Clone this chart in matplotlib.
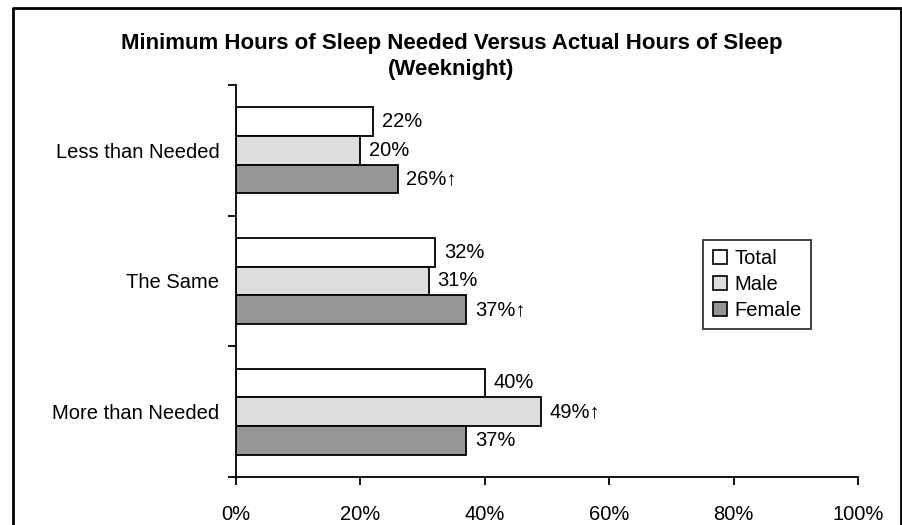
import matplotlib
matplotlib.use("Agg")
import matplotlib.pyplot as plt
from matplotlib.lines import Line2D
import numpy as np

plt.rcParams['font.family'] = ['Liberation Sans', 'DejaVu Sans']

categories = ["Less than Needed", "The Same", "More than Needed"]
series_names = ["Total", "Male", "Female"]
total = [22, 32, 40]
male = [20, 31, 49]
female = [26, 37, 37]
flags_total = [False, False, False]
flags_male = [False, False, True]
flags_female = [True, True, False]
colors = ["#FFFFFF", "#DDDDDD", "#969696"]
xticks = [0, 20, 40, 60, 80, 100]

W, H = 903, 525
fig = plt.figure(figsize=(W / 100, H / 100), dpi=100)
ax = fig.add_axes([236 / W, 1 - 477 / H, (858 - 236) / W, (477 - 85) / H])

series = [total, male, female]
flags = [flags_total, flags_male, flags_female]
bar_h = 0.22
n = len(categories)
centers = np.arange(n)[::-1] + 0.5  # top category at top
for i, (vals, fl) in enumerate(zip(series, flags)):
    y = centers + (1 - i) * bar_h
    ax.barh(y, vals, height=bar_h, color=colors[i], edgecolor="black", linewidth=1.3)
    for yy, v, f in zip(y, vals, fl):
        ax.text(v + 1.4, yy, f"{v}%" + ("↑" if f else ""), va="center", ha="left", fontsize=14.5)

ax.set_xlim(0, 100)
ax.set_ylim(0, n)
ax.set_xticks(xticks)
ax.set_xticklabels([f"{t}%" for t in xticks], fontsize=14.5)
ax.set_yticks([0, 1, 2, 3])
ax.set_yticklabels([])
ax.set_yticks(centers, minor=True)
ax.set_yticklabels(categories, minor=True, fontsize=14.5)
ax.tick_params(axis="y", which="minor", length=0, pad=12)
ax.tick_params(axis="y", which="major", length=6, width=1.3, direction="out")
ax.tick_params(axis="x", length=6, width=1.3, direction="out", pad=14)
for s in ["top", "right"]:
    ax.spines[s].set_visible(False)
for s in ["left", "bottom"]:
    ax.spines[s].set_linewidth(1.3)

handles = [Line2D([], [], marker="s", linestyle="none", markersize=10,
                  markerfacecolor=c, markeredgecolor="black", markeredgewidth=1.2)
           for c in colors]
leg = fig.legend(handles, series_names, loc="upper left",
                 bbox_to_anchor=(703 / W, 1 - 240 / H), fontsize=14.5,
                 frameon=True, fancybox=False, edgecolor="black",
                 handlelength=0.8, handletextpad=0.3, borderpad=0.45,
                 labelspacing=0.35, borderaxespad=0)
leg.get_frame().set_linewidth(1.3)

fig.text(0.5, 1 - 43 / H, "Minimum Hours of Sleep Needed Versus Actual Hours of Sleep",
         ha="center", va="center", fontsize=16, fontweight="bold")
fig.text(0.5, 1 - 70 / H, "(Weeknight)", ha="center", va="center",
         fontsize=16, fontweight="bold")

# outer frame (left, top, right; bottom runs off the image)
x0, x1, y0 = 13.5 / W, 901 / W, 1 - 8 / H
fig.add_artist(Line2D([x0, x0, x1, x1], [-0.05, y0, y0, -0.05],
                      transform=fig.transFigure, color="black", linewidth=2))

fig.savefig("out.png", dpi=100)
